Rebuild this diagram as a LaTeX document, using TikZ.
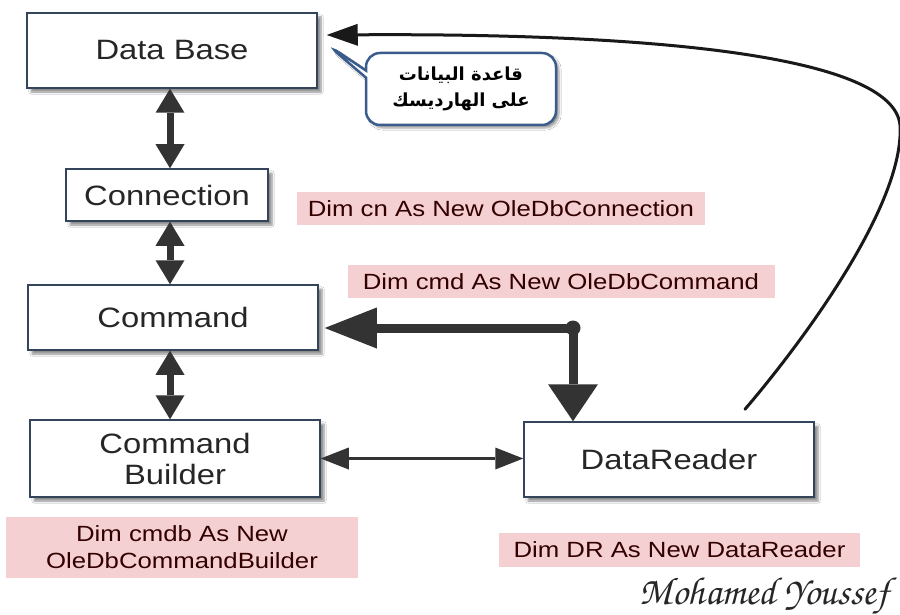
\documentclass[tikz,border=0pt]{standalone}
\usepackage{fontspec}
\setmainfont{Liberation Sans}[FakeStretch=1.17]
\newfontfamily\arfont[Script=Arabic]{DejaVu Sans}
\newfontfamily\sigfamily{TeX Gyre Chorus}
\TeXXeTstate=1
\usetikzlibrary{arrows.meta,shapes.callouts,shadows.blur,calc}
\newcommand\sigfont{\sigfamily\fontsize{39}{41}\selectfont}

\definecolor{boxline}{HTML}{34445A}
\definecolor{pinkfill}{HTML}{F5D0D2}
\definecolor{arrowgray}{HTML}{333333}
\definecolor{noteline}{HTML}{3A5C8C}

\tikzset{
  block/.style={draw=boxline,line width=1.5pt,fill=white,text=black!85,align=center,
    font=\fontsize{28}{31}\selectfont,inner sep=0pt,
    blur shadow={shadow xshift=4pt,shadow yshift=-4pt,shadow opacity=45,shadow blur steps=6}},
  codelabel/.style={fill=pinkfill,text=black!80!red,align=center,inner sep=0pt,
    font=\fontsize{22}{27}\selectfont},
  note/.style={rectangle callout,rounded corners=14pt,draw=noteline,line width=2.5pt,fill=white,
    align=center,font=\arfont\bfseries\fontsize{18}{26}\selectfont,inner sep=0pt,
    blur shadow={shadow xshift=3pt,shadow yshift=-3pt,shadow opacity=40}},
  midtip/.tip={Triangle[length=24pt,width=29pt,line width=0pt]},
  smalltip/.tip={Triangle[length=28pt,width=22pt,line width=0pt]},
}

\begin{document}
\begin{tikzpicture}[x=1pt,y=-1pt]
  \useasboundingbox[fill=white] (0,0) rectangle (900,615); % page 900 x 615
  \coordinate (ax) at (170,0); % axis of the vertical arrows

  % boxes
  \node[block,minimum width=290pt,minimum height=75pt] (db) at (172,50.5) {Data Base};
  \node[block,minimum width=202pt,minimum height=52pt] (conn) at (167,195) {Connection};
  \node[block,minimum width=290pt,minimum height=65pt] (cmd) at (173,317.5) {Command};
  \node[block,minimum width=290pt,minimum height=77pt] (cb) at (175,458.5) {Command\\Builder};
  \node[block,minimum width=290pt,minimum height=75pt] (dr) at (669,459.5) {DataReader};

  % note on the data base
  \node[note,minimum width=190pt,minimum height=72pt,
        callout absolute pointer={($(db.east)+(10,-5.5)$)}] (dbnote) at (461,89)
    {\beginR قاعدة البيانات\endR\\\beginR على الهارديسك\endR};

  % code lines
  \node[codelabel,minimum width=408pt,minimum height=33pt] (cnlbl) at (501,208.5) {Dim cn As New OleDbConnection};
  \node[codelabel,minimum width=427pt,minimum height=33pt] (cmdlbl) at (561,281.5) {Dim cmd As New OleDbCommand};
  \node[codelabel,minimum width=352pt,minimum height=61pt] (cblbl) at (182,547.5) {Dim cmdb As New\\OleDbCommandBuilder};
  \node[codelabel,minimum width=361pt,minimum height=34pt] (drlbl) at (679.5,550) {Dim DR As New DataReader};

  \node[font=\sigfont,text=black!85,inner sep=0pt] (sig) at (764,596) {Mohamed Youssef};

  % links down the chain
  \foreach \a/\b in {db/conn,conn/cmd,cmd/cb}{
    \draw[arrowgray,line width=7pt,midtip-midtip] (\a.south -| ax) -- (\b.north -| ax);
  }

  % command <-> datareader
  \coordinate (bend) at (573,328);
  \draw[arrowgray,line width=9pt,line join=round,
        {Triangle[length=52pt,width=41pt,line width=0pt]}-{Triangle[length=37pt,width=50pt,line width=0pt]}]
    ([xshift=6pt]cmd.east |- bend) -- (bend) -- (bend |- dr.north);
  \fill[arrowgray] (bend) circle (7.5pt);

  \draw[arrowgray,line width=3.5pt,smalltip-smalltip] (cb.east) -- (cb.east -| dr.west);

  % datareader back to the data base
  \draw[black!90,line width=3pt,line cap=round,-{Triangle[length=31pt,width=22pt,line width=0pt]}]
    ($(dr.north)+(76,-12)$) .. controls (800,345) and (905,205) .. (900,125)
    .. controls (893,55) and (650,33) .. ($(db.east)+(9,-15.5)$);
\end{tikzpicture}
\end{document}
